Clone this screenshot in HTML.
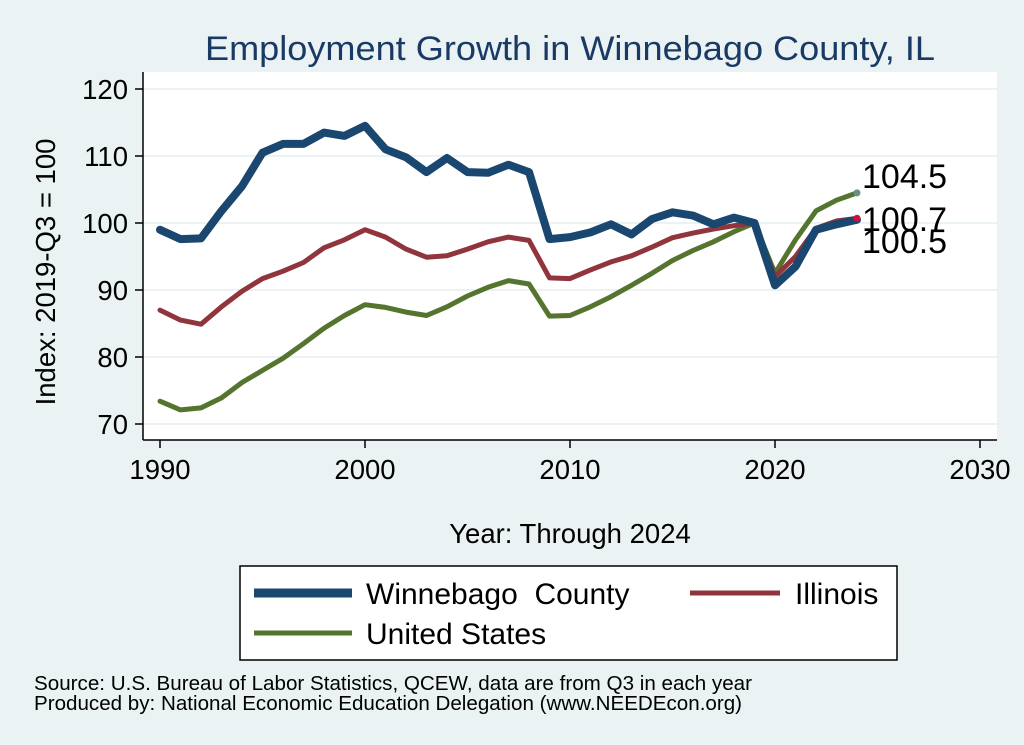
<!DOCTYPE html>
<html><head><meta charset="utf-8"><style>
html,body{margin:0;padding:0;background:#eaf2f3;}
svg{display:block;font-family:"Liberation Sans",Arial,sans-serif;}
</style></head><body>
<svg id="s" width="1024" height="745" viewBox="0 0 1024 745" xmlns="http://www.w3.org/2000/svg">
<rect width="1024" height="745" fill="#eaf2f3"/>
<rect x="143" y="72" width="854" height="368" fill="#ffffff"/>
<g stroke="#eaf2f3" stroke-width="2">
<line x1="143" x2="997" y1="89" y2="89"/>
<line x1="143" x2="997" y1="156" y2="156"/>
<line x1="143" x2="997" y1="223" y2="223"/>
<line x1="143" x2="997" y1="290" y2="290"/>
<line x1="143" x2="997" y1="357" y2="357"/>
<line x1="143" x2="997" y1="424" y2="424"/>
</g>
<g stroke="#000" stroke-width="1.5">
<line x1="143" x2="143" y1="72" y2="440"/>
<line x1="143" x2="997" y1="440" y2="440"/>
<line x1="135" x2="143" y1="89" y2="89"/><line x1="135" x2="143" y1="156" y2="156"/><line x1="135" x2="143" y1="223" y2="223"/><line x1="135" x2="143" y1="290" y2="290"/><line x1="135" x2="143" y1="357" y2="357"/><line x1="135" x2="143" y1="424" y2="424"/>
<line x1="160" x2="160" y1="440" y2="448"/><line x1="365" x2="365" y1="440" y2="448"/><line x1="570" x2="570" y1="440" y2="448"/><line x1="775" x2="775" y1="440" y2="448"/><line x1="980" x2="980" y1="440" y2="448"/>
</g>
<g font-size="27.5" text-anchor="end" fill="#000">
<text x="128" y="99">120</text><text x="128" y="166">110</text><text x="128" y="233">100</text><text x="128" y="300">90</text><text x="128" y="367">80</text><text x="128" y="434">70</text>
</g>
<g font-size="27.5" text-anchor="middle" fill="#000">
<text x="160" y="479">1990</text><text x="365" y="479">2000</text><text x="570" y="479">2010</text><text x="775" y="479">2020</text><text x="980" y="479">2030</text>
</g>
<text x="570" y="543" font-size="27.5" text-anchor="middle">Year: Through 2024</text>
<text transform="translate(55,272) rotate(-90)" font-size="27.5" text-anchor="middle">Index: 2019-Q3 = 100</text>
<text x="570" y="60" font-size="34" text-anchor="middle" fill="#1a3a66" textLength="730" lengthAdjust="spacingAndGlyphs">Employment Growth in Winnebago County, IL</text>
<g id="lines" fill="none" stroke-linejoin="round" stroke-linecap="round"></g>
<g font-size="34" fill="#000">
<text x="862" y="188">104.5</text>
<text x="862" y="231">100.7</text>
<text x="862" y="253">100.5</text>
</g>
<rect x="240" y="566" width="657" height="94" fill="#fff" stroke="#000" stroke-width="1.5"/>
<line x1="254" x2="352" y1="593" y2="593" stroke="#1a476f" stroke-width="9"/>
<line x1="690" x2="780" y1="593" y2="593" stroke="#90353b" stroke-width="5"/>
<line x1="254" x2="352" y1="633" y2="633" stroke="#55752f" stroke-width="5"/>
<g font-size="30"><text x="366" y="604" xml:space="preserve">Winnebago  County</text><text x="795" y="604">Illinois</text><text x="366" y="644">United States</text></g>
<g font-size="20"><text x="34" y="690" textLength="718" lengthAdjust="spacingAndGlyphs">Source: U.S. Bureau of Labor Statistics, QCEW, data are from Q3 in each year</text>
<text x="34" y="710" textLength="708" lengthAdjust="spacingAndGlyphs">Produced by: National Economic Education Delegation (www.NEEDEcon.org)</text></g>
</svg>
<script>
var W=[99,97.6,97.7,101.8,105.5,110.5,111.8,111.8,113.5,113,114.5,111,109.8,107.6,109.7,107.6,107.5,108.7,107.6,97.6,97.9,98.6,99.8,98.3,100.6,101.6,101.1,99.8,100.8,100,90.7,93.5,99,99.8,100.5];
var I=[87,85.5,84.9,87.5,89.8,91.7,92.8,94.1,96.3,97.5,99,97.9,96.1,94.9,95.1,96.1,97.2,97.9,97.4,91.8,91.7,93,94.2,95.1,96.4,97.8,98.5,99.1,99.6,100,92,95,99.2,100.3,100.7];
var U=[73.4,72.1,72.4,73.9,76.2,78,79.8,82,84.3,86.2,87.8,87.4,86.7,86.2,87.5,89.1,90.4,91.4,90.9,86.1,86.2,87.5,89,90.7,92.5,94.4,95.9,97.2,98.7,100,92.5,97.5,101.8,103.4,104.5];
function pts(a){return a.map(function(v,i){return (160+i*20.5).toFixed(1)+","+(89+(120-v)*6.7).toFixed(1)}).join(" ")}
var g=document.getElementById("lines"),ns="http://www.w3.org/2000/svg";
[[U,"#55752f",5],[I,"#90353b",5],[W,"#1a476f",8]].forEach(function(d){var p=document.createElementNS(ns,"polyline");p.setAttribute("points",pts(d[0]));p.setAttribute("stroke",d[1]);p.setAttribute("stroke-width",d[2]);g.appendChild(p);});
[[U[34],"#6a8f80"],[I[34],"#d0103a"]].forEach(function(d){var c=document.createElementNS(ns,"circle");c.setAttribute("cx",857);c.setAttribute("cy",89+(120-d[0])*6.7);c.setAttribute("r",3.5);c.setAttribute("fill",d[1]);g.appendChild(c);});
</script>
</body></html>
